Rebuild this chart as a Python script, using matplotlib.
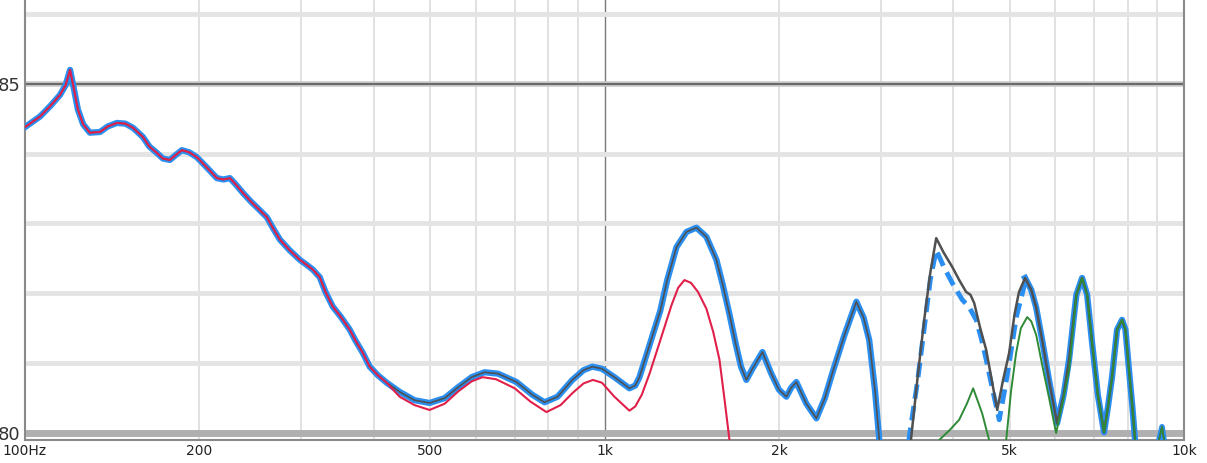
import numpy as np
import matplotlib
matplotlib.use("Agg")
import matplotlib.pyplot as plt

# --- data (frequency in Hz, level in dB) ---
# shared low-frequency part (red and summed traces coincide here)
low_freq = [100, 106.1, 110.5, 114.9, 117.5, 119.6, 121.5, 123.4, 126, 129.4, 134.7, 139, 144.1,
            149, 153.6, 159.7, 164, 168.9, 173, 177.8, 182, 186.5, 192, 197.9, 205, 214.3,
            220, 225.7, 231, 237.6, 245, 254.2, 261.4, 268, 275.3, 286, 298.0, 306,
            313.8, 322.6, 330, 339.7, 351, 363.4, 372, 382.6, 393.4, 406, 420.9]
low_level = [84.38, 84.53, 84.68, 84.84, 84.98, 85.20, 84.92, 84.63, 84.42, 84.30, 84.31, 84.39, 84.44,
             84.43, 84.37, 84.24, 84.10, 84.01, 83.93, 83.91, 83.98, 84.05, 84.02, 83.95, 83.82, 83.65,
             83.63, 83.65, 83.56, 83.44, 83.32, 83.19, 83.09, 82.93, 82.77, 82.62, 82.48, 82.41,
             82.34, 82.23, 82.02, 81.81, 81.66, 81.48, 81.32, 81.15, 80.95, 80.83, 80.72]

# summed response (blue with grey centre), first section
sum_freq_a = [443, 470, 499, 530, 560, 590, 621, 655, 705, 750, 788, 830, 880, 920, 953, 990,
              1040, 1104, 1130, 1149, 1196, 1248, 1283, 1331, 1385, 1441, 1499, 1560, 1600,
              1643, 1684, 1720, 1757, 1800, 1873, 1940, 2000, 2060, 2100, 2143, 2230, 2321,
              2400, 2473, 2594, 2720, 2800, 2863, 2930, 2980, 3010]
sum_level_a = [80.59, 80.47, 80.43, 80.50, 80.66, 80.80, 80.87, 80.85, 80.73, 80.55, 80.44, 80.52,
               80.76, 80.90, 80.95, 80.92, 80.80, 80.64, 80.68, 80.80, 81.26, 81.75, 82.19, 82.66,
               82.88, 82.94, 82.81, 82.48, 82.12, 81.70, 81.28, 80.95, 80.76, 80.92, 81.16, 80.85,
               80.62, 80.52, 80.65, 80.73, 80.42, 80.21, 80.50, 80.86, 81.40, 81.88, 81.65, 81.33,
               80.60, 79.90, 79.5]

# summed response, upper section (grey)
sum_freq_b = [3340, 3383, 3470, 3562, 3650, 3736, 3850, 3981, 4100, 4208, 4280, 4345, 4450,
              4557, 4660, 4761, 4870, 4993, 5100, 5191, 5319, 5450, 5557, 5700, 5851, 6040,
              6200, 6334, 6520, 6671, 6805, 6941, 7100, 7278, 7400, 7513, 7665, 7818, 7924,
              8038, 8150, 8232, 8300]
sum_level_b = [79.5, 79.94, 80.80, 81.62, 82.30, 82.79, 82.58, 82.38, 82.18, 82.02, 81.98, 81.86,
               81.50, 81.19, 80.75, 80.33, 80.75, 81.15, 81.70, 82.02, 82.22, 82.05, 81.80, 81.30,
               80.75, 80.14, 80.55, 81.05, 81.98, 82.22, 81.98, 81.29, 80.55, 80.01, 80.40, 80.80,
               81.48, 81.62, 81.48, 80.90, 80.35, 79.90, 79.5]

# dashed blue between 3.3k and 5.3k
dash_freq = [3340, 3356, 3470, 3562, 3650, 3736, 3850, 3981, 4142, 4260, 4379, 4470, 4557,
             4680, 4799, 4900, 4993, 5133, 5319]
dash_level = [79.5, 79.94, 80.75, 81.50, 82.20, 82.62, 82.38, 82.15, 81.91, 81.80, 81.62, 81.35,
              81.05, 80.60, 80.19, 80.60, 81.00, 81.65, 82.16]

# red trace above 420 Hz
red_freq = [443, 470, 499, 530, 560, 590, 616, 650, 700, 745, 794, 840, 880, 920, 955, 990,
            1040, 1104, 1130, 1160, 1196, 1244, 1305, 1340, 1374, 1410, 1450, 1499, 1540,
            1579, 1610, 1643, 1665]
red_level = [80.52, 80.40, 80.33, 80.42, 80.60, 80.74, 80.80, 80.77, 80.64, 80.45, 80.30, 80.40,
             80.57, 80.71, 80.76, 80.72, 80.52, 80.32, 80.38, 80.55, 80.85, 81.29, 81.83, 82.08,
             82.19, 82.15, 82.02, 81.78, 81.45, 81.05, 80.50, 79.90, 79.5]

# green trace
green_freq_a = [3700, 3781, 3950, 4093, 4220, 4327, 4410, 4485, 4560, 4611, 4650]
green_level_a = [79.6, 79.90, 80.05, 80.19, 80.42, 80.64, 80.45, 80.28, 80.05, 79.90, 79.6]
green_freq_b = [4900, 4934, 5030, 5133, 5230, 5362, 5450, 5560, 5700, 5851, 6016, 6180, 6334,
                6520, 6671, 6805, 6941, 7100, 7278, 7400, 7513, 7665, 7818, 7924, 8038, 8150,
                8232, 8300]
green_level_b = [79.6, 79.90, 80.60, 81.15, 81.50, 81.66, 81.60, 81.40, 80.95, 80.50, 80.0, 80.45,
                 80.90, 81.98, 82.22, 81.98, 81.29, 80.55, 80.01, 80.40, 80.80, 81.48, 81.62, 81.48,
                 80.90, 80.35, 79.90, 79.5]

# small blip near 9 kHz
blip_freq = [9000, 9055, 9164, 9237, 9300]
blip_level = [79.6, 79.90, 80.09, 79.90, 79.6]

x_ticks = [200, 500, 1000, 2000, 5000, 10000]
x_labels = ["200", "500", "1k", "2k", "5k", "10k"]
y_ticks = [80, 85]

# --- figure ---
fig = plt.figure(figsize=(12.07, 4.63), dpi=100)
ax = fig.add_axes([25 / 1207, 23 / 463, 1159 / 1207, 440 / 463])
ax.set_xscale("log")
ax.set_xlim(100, 10000)
ax.set_ylim(79.9, 86.2)

# grid
for f in [200, 300, 400, 500, 600, 700, 800, 900,
          2000, 3000, 4000, 5000, 6000, 7000, 8000, 9000]:
    ax.axvline(f, color="#dcdcdc", lw=1.2, zorder=1)
ax.axvline(1000, color="#7a7a7a", lw=1.0, zorder=1)
for v in [81, 82, 83, 84, 86]:
    ax.axhline(v, color="#e4e4e4", lw=3.5, zorder=1)
ax.axhline(85, color="#c8c8c8", lw=4, zorder=1)
ax.axhline(85, color="#6a6a6a", lw=1.5, zorder=1)
ax.axhline(80, color="#b0b0b0", lw=5, zorder=1)

low_freq = np.array(low_freq)
low_level = np.array(low_level)
sum_freq_b = np.array(sum_freq_b)
sum_level_b = np.array(sum_level_b)

blue = "#2a8ff0"
grey = "#505050"
green = "#2f8a36"

# summed trace
fa = np.concatenate([low_freq, sum_freq_a])
la = np.concatenate([low_level, sum_level_a])
ax.plot(fa, la, color=blue, lw=4.5, solid_joinstyle="round", zorder=3)
ax.plot(fa, la, color=grey, lw=1.2, zorder=4)

mask = sum_freq_b >= 5319
ax.plot(sum_freq_b[mask], sum_level_b[mask], color=blue, lw=4.5, solid_joinstyle="round", zorder=3)
ax.plot(dash_freq, dash_level, color=blue, lw=3.5, dashes=(3, 1.5), zorder=3)
ax.plot(sum_freq_b, sum_level_b, color=grey, lw=1.8, zorder=4)
ax.plot(blip_freq, blip_level, color=blue, lw=4, zorder=3)
ax.plot(blip_freq, blip_level, color=grey, lw=1.2, zorder=4)

# green trace
ax.plot(green_freq_a, green_level_a, color=green, lw=1.4, zorder=5)
ax.plot(green_freq_b, green_level_b, color=green, lw=1.4, zorder=5)
ax.plot(blip_freq, blip_level, color=green, lw=1.2, zorder=5)

# red trace
fr = np.concatenate([low_freq, red_freq])
lr = np.concatenate([low_level, red_level])
ax.plot(fr, lr, color="#e0204a", lw=1.5, zorder=6)

# axes styling
ax.spines["top"].set_visible(False)
for s in ["left", "right", "bottom"]:
    ax.spines[s].set_color("#8a8a8a")
    ax.spines[s].set_linewidth(1.5)

ax.set_xticks([100] + x_ticks)
ax.set_xticklabels(["100Hz"] + x_labels, fontsize=10, color="#222222")
ax.minorticks_off()
ax.tick_params(axis="x", length=0, pad=3)
ax.set_yticks(y_ticks)
ax.set_yticklabels([str(v) for v in y_ticks], fontsize=13, color="#333333")
ax.tick_params(axis="y", length=0, pad=3)

fig.savefig("out.png", dpi=100)
